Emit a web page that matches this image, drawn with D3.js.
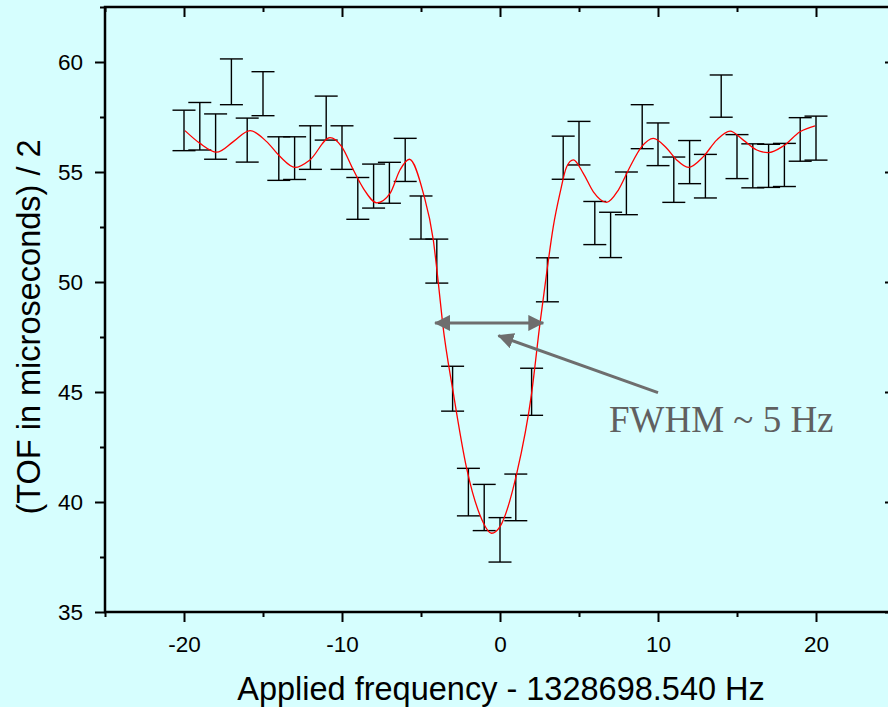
<!DOCTYPE html>
<html>
<head>
<meta charset="utf-8">
<script src="https://cdn.jsdelivr.net/npm/d3@7"></script>
<style>
  html, body { margin: 0; padding: 0; background: #d6fefe; overflow: hidden; }
  svg { display: block; }
</style>
</head>
<body>
<svg id="chart" width="888" height="707"></svg>
<script>
// measured points (offset from 1328698.540 Hz), mean TOF / 2 and error
var freq = [-20, -19, -18, -17, -16, -15, -14, -13, -12, -11, -10, -9, -8, -7, -6, -5, -4, -3, -2, -1,
            0, 1, 2, 3, 4, 5, 6, 7, 8, 9, 10, 11, 12, 13, 14, 15, 16, 17, 18, 19, 20];
var tofMean = [56.89, 57.08, 56.61, 59.10, 56.45, 58.56, 55.61, 55.63, 56.11, 57.45,
               56.11, 53.80, 54.36, 54.51, 55.55, 52.93, 50.95, 45.15, 40.45, 39.75,
               38.28, 40.21, 45.01, 50.10, 55.65, 56.31, 52.68, 52.14, 54.03, 57.06,
               56.26, 54.65, 55.45, 54.81, 58.45, 55.70, 55.28, 55.28, 55.32, 56.48, 56.54];
var tofErr = [0.92, 1.08, 1.03, 1.04, 1.00, 1.00, 0.99, 0.97, 0.99, 1.00,
              0.99, 0.95, 1.00, 0.93, 0.98, 0.98, 1.00, 1.02, 1.08, 1.05,
              1.01, 1.06, 1.07, 1.00, 0.98, 0.99, 0.98, 1.03, 0.97, 1.00,
              0.97, 1.03, 0.98, 0.99, 0.96, 1.00, 1.00, 0.98, 0.98, 0.99, 1.00];

// fitted line shape
var fitFreq = [-19.94, -18.99, -17.93, -16.88, -15.82, -14.77, -13.92, -12.97, -12.03, -10.76,
               -10.02, -9.28, -8.65, -7.8, -6.96, -6.33, -5.74, -4.85, -4.22, -3.9,
               -3.63, -2.95, -2.11, -1.27, -0.53, 0, 1.06, 2.0, 2.53, 2.95,
               3.37, 3.8, 4.22, 4.64, 5.27, 5.91, 6.75, 7.49, 8.23, 8.97,
               9.7, 10.55, 11.18, 11.92, 12.87, 13.71, 14.56, 15.4, 16.25, 16.98,
               17.93, 18.99, 19.94];
var fitTof = [56.88, 56.30, 55.90, 56.38, 56.88, 56.38, 55.70, 55.21, 55.55, 56.56,
              56.15, 55.09, 54.26, 53.60, 54.03, 55.09, 55.58, 54.03, 51.90, 49.94,
              48.12, 44.94, 41.53, 39.41, 38.58, 38.88, 41.30, 44.94, 48.12, 50.39,
              52.51, 54.05, 55.24, 55.55, 54.94, 54.10, 53.62, 54.18, 55.24, 56.15,
              56.53, 56.08, 55.55, 55.21, 55.70, 56.45, 56.86, 56.45, 56.00, 55.88,
              56.18, 56.83, 57.10];

var xTicks = [-20, -10, 0, 10, 20];
var xMinor = [-25, -15, -5, 5, 15, 25];
var yTicks = [35, 40, 45, 50, 55, 60];
var yMinor = [37.5, 42.5, 47.5, 52.5, 57.5, 62.5];

var svg = d3.select("#chart");
var plotL = 105, plotR = 895, plotT = 7, plotB = 612;

var x = d3.scaleLinear().domain([-25, 25]).range([plotL, plotR]);
var y = d3.scaleLinear().domain([35, 62.5]).range([plotB, plotT]);

var grey = "#6e6e6e";

svg.append("rect")
   .attr("width", 888).attr("height", 707)
   .attr("fill", "#d6fefe");

// arrow heads
var defs = svg.append("defs");
defs.append("marker")
    .attr("id", "head")
    .attr("viewBox", "0 0 16 16")
    .attr("refX", 15).attr("refY", 8)
    .attr("markerWidth", 16).attr("markerHeight", 16)
    .attr("markerUnits", "userSpaceOnUse")
    .attr("orient", "auto-start-reverse")
  .append("path")
    .attr("d", "M0,0 L16,8 L0,16 Z")
    .attr("fill", grey);

// axes
function styleAxis(g) {
  g.select(".domain").remove();
  g.selectAll("line").attr("stroke", "#000").attr("stroke-width", 2);
  g.selectAll("text")
   .attr("font-family", "'Liberation Sans', Arial, sans-serif")
   .attr("font-size", 22.5)
   .attr("fill", "#000");
}

var fmt = function(d) { return String(d); };

svg.append("g")
   .attr("transform", "translate(0," + plotB + ")")
   .call(d3.axisBottom(x).tickValues(xTicks).tickFormat(fmt).tickSize(10).tickPadding(14))
   .call(styleAxis);
svg.append("g")
   .attr("transform", "translate(0," + plotB + ")")
   .call(d3.axisBottom(x).tickValues(xMinor).tickFormat("").tickSize(5))
   .call(styleAxis);
svg.append("g")
   .attr("transform", "translate(0," + plotT + ")")
   .call(d3.axisTop(x).tickValues(xTicks).tickFormat("").tickSize(-10))
   .call(styleAxis);
svg.append("g")
   .attr("transform", "translate(0," + plotT + ")")
   .call(d3.axisTop(x).tickValues(xMinor).tickFormat("").tickSize(-5))
   .call(styleAxis);

svg.append("g")
   .attr("transform", "translate(" + plotL + ",0)")
   .call(d3.axisLeft(y).tickValues(yTicks).tickFormat(fmt).tickSize(10).tickPadding(12))
   .call(styleAxis);
svg.append("g")
   .attr("transform", "translate(" + plotL + ",0)")
   .call(d3.axisLeft(y).tickValues(yMinor).tickFormat("").tickSize(5))
   .call(styleAxis);
svg.append("g")
   .attr("transform", "translate(" + plotR + ",0)")
   .call(d3.axisRight(y).tickValues(yTicks).tickFormat("").tickSize(-10))
   .call(styleAxis);
svg.append("g")
   .attr("transform", "translate(" + plotR + ",0)")
   .call(d3.axisRight(y).tickValues(yMinor).tickFormat("").tickSize(-5))
   .call(styleAxis);

svg.append("rect")
   .attr("x", plotL).attr("y", plotT)
   .attr("width", plotR - plotL).attr("height", plotB - plotT)
   .attr("fill", "none").attr("stroke", "#000").attr("stroke-width", 2.5);

// error bars
var capHalf = 11.5;
var bars = svg.append("g").attr("stroke", "#000").attr("stroke-width", 1.4).attr("fill", "none");
freq.forEach(function(f, i) {
  var cx = x(f), y1 = y(tofMean[i] + tofErr[i]), y0 = y(tofMean[i] - tofErr[i]);
  bars.append("line").attr("x1", cx).attr("x2", cx).attr("y1", y1).attr("y2", y0);
  bars.append("line").attr("x1", cx - capHalf).attr("x2", cx + capHalf).attr("y1", y1).attr("y2", y1);
  bars.append("line").attr("x1", cx - capHalf).attr("x2", cx + capHalf).attr("y1", y0).attr("y2", y0);
});

// fit
var line = d3.line()
    .x(function(d, i) { return x(fitFreq[i]); })
    .y(function(d, i) { return y(fitTof[i]); })
    .curve(d3.curveMonotoneX);
svg.append("path")
   .attr("d", line(fitFreq))
   .attr("fill", "none")
   .attr("stroke", "#ff0000")
   .attr("stroke-width", 1.3);

// FWHM annotation
svg.append("line")
   .attr("x1", x(-4.11)).attr("x2", x(2.74))
   .attr("y1", y(48.14)).attr("y2", y(48.14))
   .attr("stroke", grey).attr("stroke-width", 3)
   .attr("marker-start", "url(#head)")
   .attr("marker-end", "url(#head)");

svg.append("line")
   .attr("x1", x(10.0)).attr("y1", y(44.97))
   .attr("x2", x(-0.1)).attr("y2", y(47.56))
   .attr("stroke", grey).attr("stroke-width", 3)
   .attr("marker-end", "url(#head)");

svg.append("text")
   .attr("x", 609).attr("y", 432)
   .attr("font-family", "'Liberation Serif', 'Times New Roman', serif")
   .attr("font-size", 37)
   .attr("fill", "#606060")
   .text("FWHM ~ 5 Hz");

// axis titles
svg.append("text")
   .attr("x", 501).attr("y", 700)
   .attr("text-anchor", "middle")
   .attr("font-family", "'Liberation Sans', Arial, sans-serif")
   .attr("font-size", 32.5)
   .text("Applied frequency - 1328698.540 Hz");

svg.append("text")
   .attr("transform", "translate(40,327) rotate(-90)")
   .attr("text-anchor", "middle")
   .attr("font-family", "'Liberation Sans', Arial, sans-serif")
   .attr("font-size", 32.5)
   .text("(TOF in microseconds) / 2");
</script>
</body>
</html>
